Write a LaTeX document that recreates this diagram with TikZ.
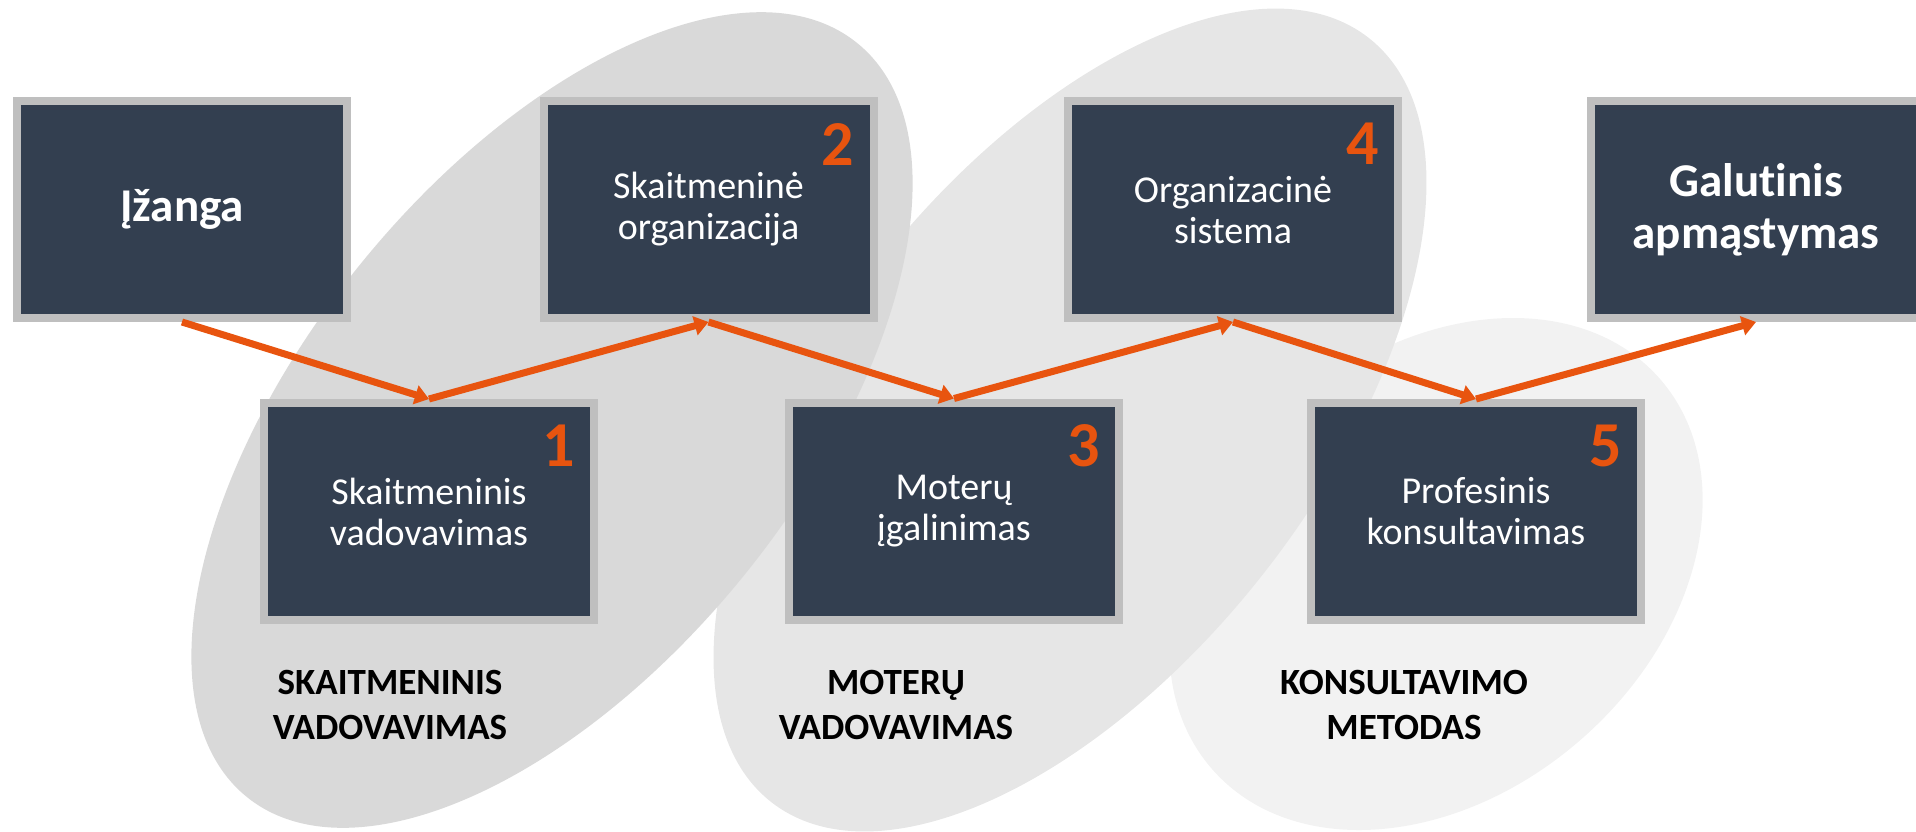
\documentclass[tikz,border=0pt]{standalone}
\usepackage{fontspec}
\setmainfont{Carlito}[RawFeature={-liga;-clig;-calt}]
\usetikzlibrary{arrows.meta}

\definecolor{boxfill}{HTML}{333F50}
\definecolor{boxline}{HTML}{BFBFBF}
\definecolor{accent}{HTML}{E8540F}
\definecolor{shadeA}{HTML}{D9D9D9}
\definecolor{shadeB}{HTML}{E6E6E6}
\definecolor{shadeC}{HTML}{F2F2F2}

\begin{document}
\begin{tikzpicture}[x=1pt,y=-1pt,
  box/.style={draw=boxline, line width=8pt, fill=boxfill, text=white, minimum width=330pt, minimum height=217pt, align=center, font=\fontsize{38}{41}\selectfont},
  endbox/.style={box, font=\fontsize{47}{52}\selectfont\bfseries},
  num/.style={anchor=north east, inner sep=0pt, text=accent, font=\fontsize{64}{64}\selectfont\bfseries},
  topic/.style={align=center, font=\fontsize{37}{45}\selectfont\bfseries},
  flow/.style={draw=accent, line width=7pt, -{Triangle[length=14pt,width=19pt]}}]
\useasboundingbox (0,0) rectangle (1916,831);
\clip (0,0) rectangle (1916,831);

% ovals behind the steps
\fill[shadeC, rotate around={41:(1436,574)}] (1436,574) ellipse [x radius=297pt, y radius=220pt];
\fill[shadeB, rotate around={52:(1070,420)}] (1070,420) ellipse [x radius=485pt, y radius=247pt];
\fill[shadeA, rotate around={51:(552,420)}] (552,420) ellipse [x radius=485pt, y radius=247pt];

\node[endbox] (intro) at (182,209.5) {Įžanga};
\node[box] (lead) at (429,511.5) {Skaitmeninis\\vadovavimas};
\node[box] (org) at (708.5,209.5) {Skaitmeninė\\organizacija};
\node[box] (women) at (954,511) {Moterų\\įgalinimas};
\node[box] (system) at (1233,209.5) {Organizacinė\\sistema};
\node[box] (career) at (1476,511.5) {Profesinis\\konsultavimas};
\node[endbox] (final) at (1756,209.5) {Galutinis\\apmąstymas};

\node[num] (n1) at ([shift={(-23,26)}]lead.north east) {1};
\node[num] (n2) at ([shift={(-23,26)}]org.north east) {2};
\node[num] (n3) at ([shift={(-23,26)}]women.north east) {3};
\node[num] (n4) at ([shift={(-23,26)}]system.north east) {4};
\node[num] (n5) at ([shift={(-23,26)}]career.north east) {5};

\node[topic] (topic1) at (390,705) {SKAITMENINIS\\VADOVAVIMAS};
\node[topic] (topic2) at (896,705) {MOTERŲ\\VADOVAVIMAS};
\node[topic] (topic3) at (1404,705) {KONSULTAVIMO\\METODAS};

\foreach \a/\b in {intro/lead, org/women, system/career}
  \draw[flow] (\a.south) -- (\b.north);
\foreach \a/\b in {lead/org, women/system, career/final}
  \draw[flow] (\a.north) -- (\b.south);
\end{tikzpicture}
\end{document}
